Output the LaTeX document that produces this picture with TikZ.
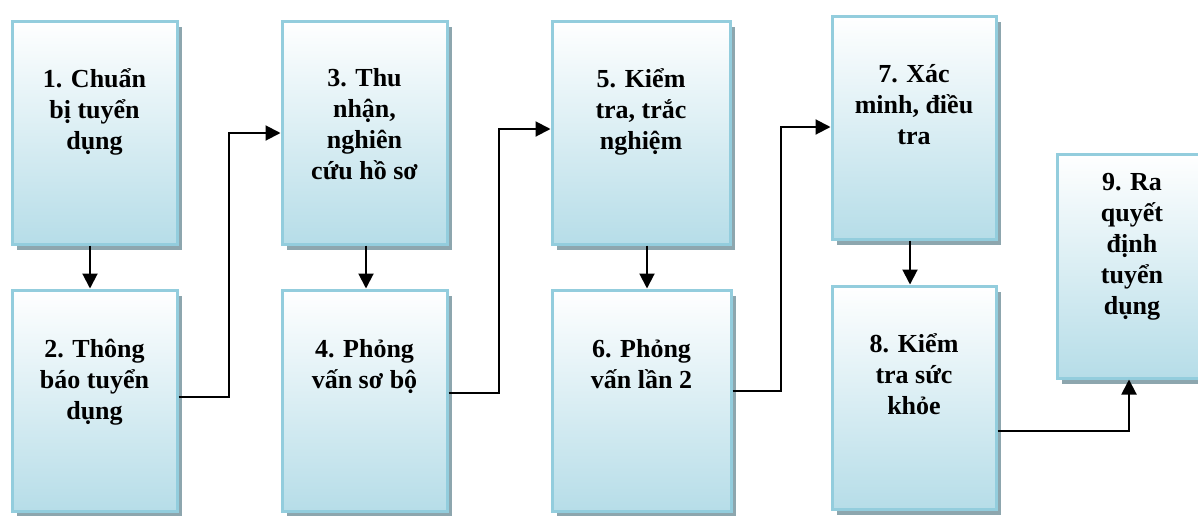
\documentclass[tikz,border=0pt]{standalone}
\usepackage{fontspec}
\setmainfont{Liberation Serif}
\usetikzlibrary{arrows.meta,shadows}
\definecolor{boxline}{HTML}{93CDDD}
\definecolor{boxlow}{HTML}{B6DDE8}
\definecolor{boxshadow}{HTML}{8DA6AE}
\tikzset{
  stagebox/.style={rectangle, inner sep=0pt, line width=3pt, draw=boxline,
    top color=white, bottom color=boxlow,
    general shadow={fill=boxshadow, shadow xshift=5pt, shadow yshift=-6pt}},
  % labels are placed by the baseline of their last line
  stagetext/.style={anchor=base, align=center, inner sep=0pt,
    font=\bfseries\fontsize{26}{31}\selectfont,
    execute at begin node={\lineskiplimit=-100pt\relax}},
  flow/.style={line width=2pt, line join=miter, -{Triangle[length=15pt,width=15pt]}},
}
\begin{document}
\begin{tikzpicture}[x=1pt, y=-1pt]
\useasboundingbox (0,0) rectangle (1198,515);

% stage boxes
\node[stagebox, minimum width=165pt, minimum height=223pt] (b1) at (94.5,132.5) {};
\node[stagebox, minimum width=165pt, minimum height=221pt] (b2) at (94.5,400.5) {};
\node[stagebox, minimum width=165pt, minimum height=223pt] (b3) at (364.5,132.5) {};
\node[stagebox, minimum width=165pt, minimum height=221pt] (b4) at (364.5,400.5) {};
\node[stagebox, minimum width=178pt, minimum height=223pt] (b5) at (641,132.5) {};
\node[stagebox, minimum width=179pt, minimum height=221pt] (b6) at (641.5,400.5) {};
\node[stagebox, minimum width=164pt, minimum height=223pt] (b7) at (914,127.5) {};
\node[stagebox, minimum width=164pt, minimum height=223pt] (b8) at (914,397.5) {};
\node[stagebox, minimum width=153pt, minimum height=224pt] (b9) at (1133.5,266) {};

% stage labels
\node[stagetext] (t1) at (94.5,149) {1. Chuẩn\\bị tuyển\\dụng};
\node[stagetext] (t2) at (94.5,419) {2. Thông\\báo tuyển\\dụng};
\node[stagetext] (t3) at (364.5,179) {3. Thu\\nhận,\\nghiên\\cứu hồ sơ};
\node[stagetext] (t4) at (364.5,388) {4. Phỏng\\vấn sơ bộ};
\node[stagetext] (t5) at (641,149) {5. Kiểm\\tra, trắc\\nghiệm};
\node[stagetext] (t6) at (641.5,388) {6. Phỏng\\vấn lần 2};
\node[stagetext] (t7) at (914,144) {7. Xác\\minh, điều\\tra};
\node[stagetext] (t8) at (914,414) {8. Kiểm\\tra sức\\khỏe};
\node[stagetext] (t9) at (1132,314) {9. Ra\\quyết\\định\\tuyển\\dụng};

% connectors
\draw[flow] (b1.south -| 90,0) -- (b2.north -| 90,0);
\draw[flow] (b3.south -| 366,0) -- (b4.north -| 366,0);
\draw[flow] (b5.south -| 647,0) -- (b6.north -| 647,0);
\draw[flow] (b7.south -| 910,0) -- (b8.north -| 910,0);
\draw[flow] (b2.east |- 0,397) -- (229,397) -- (229,133) -- (b3.west |- 0,133);
\draw[flow] (b4.east |- 0,393) -- (499,393) -- (499,129) -- (b5.west |- 0,129);
\draw[flow] (b6.east |- 0,391) -- (781,391) -- (781,127) -- (b7.west |- 0,127);
\draw[flow] (b8.east |- 0,431) -- (1129,431) -- (b9.south -| 1129,0);
\end{tikzpicture}
\end{document}
